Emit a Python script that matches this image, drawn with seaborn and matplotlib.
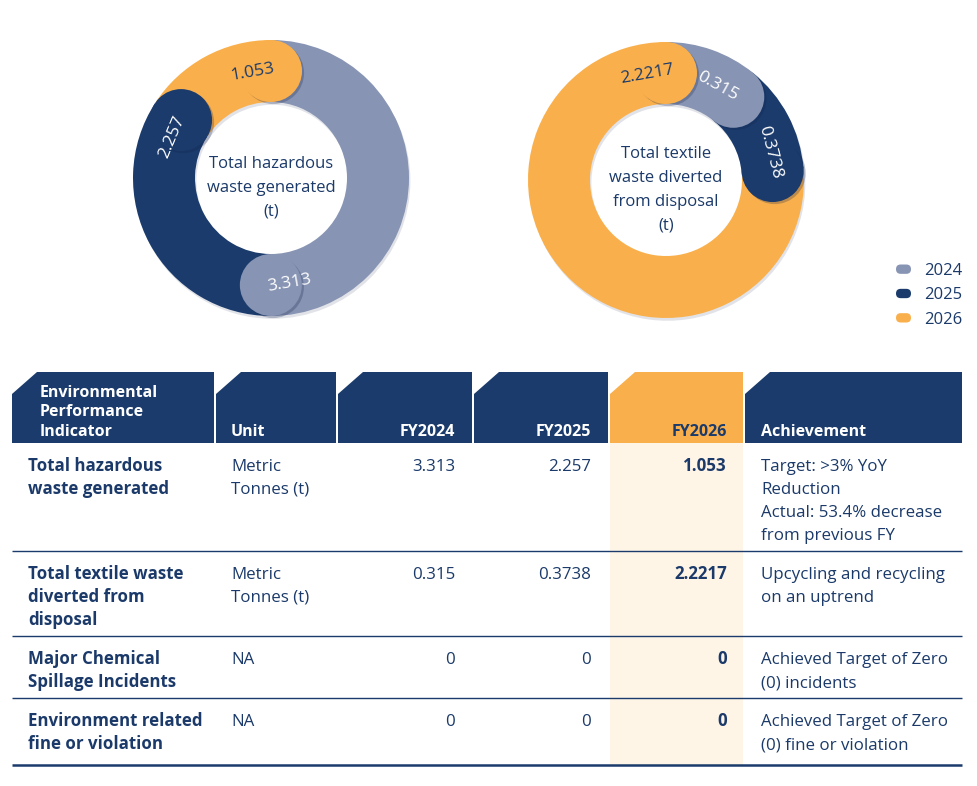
import numpy as np
import pandas as pd
import matplotlib
matplotlib.use("Agg")
import matplotlib.pyplot as plt
import seaborn as sns
from matplotlib.patches import Circle, Polygon, Rectangle, FancyBboxPatch, Patch
from matplotlib.legend_handler import HandlerPatch
import matplotlib.patheffects as pe

# ---------------- data ----------------
years = ["2024", "2025", "2026"]
hazardous_values = [3.313, 2.257, 1.053]
textile_values = [0.315, 0.3738, 2.2217]
hazardous_title = ["Total hazardous", "waste generated", "(t)"]
textile_title = ["Total textile", "waste diverted", "from disposal", "(t)"]

header_labels = ["Environmental\nPerformance\nIndicator", "Unit", "FY2024", "FY2025", "FY2026", "Achievement"]
indicators = ["Total hazardous\nwaste generated",
              "Total textile waste\ndiverted from\ndisposal",
              "Major Chemical\nSpillage Incidents",
              "Environment related\nfine or violation"]
units = ["Metric\nTonnes (t)", "Metric\nTonnes (t)", "NA", "NA"]
fy2024 = ["3.313", "0.315", "0", "0"]
fy2025 = ["2.257", "0.3738", "0", "0"]
fy2026 = ["1.053", "2.2217", "0", "0"]
achievement = ["Target: >3% YoY\nReduction\nActual: 53.4% decrease\nfrom previous FY",
               "Upcycling and recycling\non an uptrend",
               "Achieved Target of Zero\n(0) incidents",
               "Achieved Target of Zero\n(0) fine or violation"]

# ---------------- style ----------------
sns.set_theme(style="white")
plt.rcParams['font.family'] = ['Open Sans', 'DejaVu Sans']

GREY = "#8794b3"
NAVY = "#1a3b6c"
ORANGE = "#f9b04c"
CREAM = "#fef5e7"
TXT = "#1b3a6a"
pal = sns.color_palette([GREY, NAVY, ORANGE])

W, H = 978, 786
fig = plt.figure(figsize=(W / 100, H / 100), dpi=100, facecolor="white")

# ---------------- table (pixel coordinate axes) ----------------
tab = fig.add_axes([0, 0, 1, 1])
tab.set_xlim(0, W)
tab.set_ylim(H, 0)
tab.axis("off")

edges = [12, 214, 336, 472, 608, 743, 962]
head_top, head_bot = 372, 443
cham_x, cham_y = 25, 22
for i in range(6):
    x0 = edges[i] + (2 if i > 0 else 0)
    x1 = edges[i + 1]
    col = ORANGE if i == 4 else NAVY
    tab.add_patch(Polygon([(x0, head_bot), (x0, head_top + cham_y), (x0 + cham_x, head_top),
                           (x1, head_top), (x1, head_bot)], closed=True, color=col, lw=0))

head_font = 11.5
hx = [40, 231, 455, 591, 727, 761]
ha_list = ["left", "left", "right", "right", "right", "left"]
for i, lab in enumerate(header_labels):
    lines = lab.split("\n")
    n = len(lines)
    for j, ln in enumerate(lines):
        yb = 436 - (n - 1 - j) * 19.5
        tab.text(hx[i], yb, ln, ha=ha_list[i], va="baseline", fontsize=head_font,
                 fontweight="bold", color=(NAVY if i == 4 else "white"))

# rows
body_font = 12.2
line_h = 23
nlines = [max(len(a.split("\n")), len(b.split("\n")), len(c.split("\n")))
          for a, b, c in zip(indicators, units, achievement)]
seps = [head_bot]
for n in nlines:
    seps.append(seps[-1] + n * line_h + 16)
seps[-1] = max(seps[-1], seps[-2] + 67)

tab.add_patch(Rectangle((edges[4] + 2, head_bot), edges[5] - edges[4] - 2, seps[-1] - head_bot,
                        color=CREAM, lw=0, zorder=0))

bx = [28, 231, 455, 591, 727, 761]
for r in range(len(indicators)):
    top = seps[r]
    cells = [indicators[r], units[r], fy2024[r], fy2025[r], fy2026[r], achievement[r]]
    for c, cell in enumerate(cells):
        for j, ln in enumerate(cell.split("\n")):
            tab.text(bx[c], top + 28 + j * line_h, ln, ha=ha_list[c], va="baseline",
                     fontsize=body_font, color=TXT,
                     fontweight=("bold" if c in (0, 4) else "normal"))
    if r < len(indicators) - 1:
        tab.plot([12, 962], [seps[r + 1], seps[r + 1]], color=NAVY, lw=1.0, solid_capstyle="butt")
tab.plot([12, 962], [seps[-1], seps[-1]], color=NAVY, lw=1.8, solid_capstyle="butt")

# ---------------- donuts ----------------
R, WID = 138, 62
rm = R - WID / 2
shadow = [pe.SimplePatchShadow(offset=(1.5, -1.5), shadow_rgbFace="#10204a", alpha=0.25), pe.Normal()]


def donut(cx, cy, values, title_lines):
    half = 165
    ax = fig.add_axes([(cx - half) / W, 1 - (cy + half) / H, 2 * half / W, 2 * half / H])
    wedges, _ = ax.pie(values, colors=pal, startangle=90, counterclock=False, radius=R,
                       wedgeprops=dict(width=WID, linewidth=0), center=(0, 0))
    for w in wedges:
        w.set_path_effects([pe.SimplePatchShadow(offset=(1, -2), shadow_rgbFace="#10204a", alpha=0.12), pe.Normal()])
    ax.set_xlim(-half, half)
    ax.set_ylim(-half, half)
    ax.set_aspect("equal")
    ax.axis("off")
    for w, col, v in zip(wedges, pal, values):
        phi = np.deg2rad(w.theta1)
        cap = Circle((rm * np.cos(phi), rm * np.sin(phi)), WID / 2, color=col, lw=0, zorder=3)
        cap.set_path_effects(shadow)
        ax.add_patch(cap)
    for w, col, v in zip(wedges, pal, values):
        phl = w.theta1 + 10
        p = np.deg2rad(phl)
        rot = ((phl - 90 + 90) % 180) - 90
        tcol = TXT if col == pal[2] else "white"
        ax.text(rm * np.cos(p), rm * np.sin(p), str(v), ha="center", va="center",
                rotation=rot, rotation_mode="anchor", fontsize=12.5, color=tcol, zorder=5)
    n = len(title_lines)
    for j, ln in enumerate(title_lines):
        yc = -7.5 + ((n - 1) / 2 - j) * 24
        ax.text(0, yc - 6, ln, ha="center", va="baseline", fontsize=12, color=TXT, zorder=5)
    return ax


donut(271, 178, hazardous_values, hazardous_title)
donut(666, 180, textile_values, textile_title)

# ---------------- legend ----------------
def make_pill(legend, orig_handle, xdescent, ydescent, width, height, fontsize):
    return FancyBboxPatch((-xdescent, -ydescent + height * 0.1), width, height * 0.8,
                          boxstyle="round,pad=0,rounding_size=%f" % (height * 0.4))


handles = [Patch(facecolor=c, edgecolor="none") for c in pal]
leg = fig.legend(handles, years, loc="upper left", bbox_to_anchor=(896 / W, 1 - 263 / H),
                 frameon=False, fontsize=12, handlelength=0.9, handleheight=0.7,
                 handletextpad=0.8, labelspacing=0.5, borderpad=0, borderaxespad=0,
                 handler_map={Patch: HandlerPatch(patch_func=make_pill)})
for t in leg.get_texts():
    t.set_color(TXT)

fig.savefig("out.png", dpi=100, facecolor="white")
